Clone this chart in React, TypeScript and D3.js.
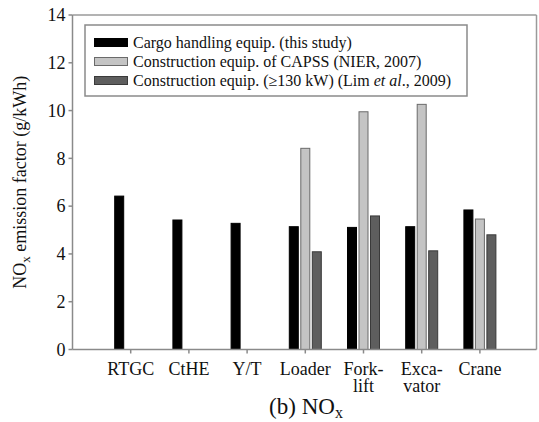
import React from "react";
import * as d3 from "d3";

const categories: string[][] = [["RTGC"], ["CtHE"], ["Y/T"], ["Loader"], ["Fork-", "lift"], ["Exca-", "vator"], ["Crane"]];
const cargo: (number | null)[] = [6.42, 5.42, 5.28, 5.14, 5.11, 5.14, 5.84];
const capss: (number | null)[] = [null, null, null, 8.42, 9.95, 10.26, 5.46];
const lim: (number | null)[] = [null, null, null, 4.09, 5.59, 4.13, 4.8];
const yTicks: number[] = [0, 2, 4, 6, 8, 10, 12, 14];

const seriesList = [
  { values: cargo, fill: "#000000", stroke: "#000000", offset: -1 },
  { values: capss, fill: "#c4c4c4", stroke: "#6a6a6a", offset: 0 },
  { values: lim, fill: "#5e5e5e", stroke: "#3a3a3a", offset: 1 },
];

const FONT = "'Liberation Serif', 'Times New Roman', serif";

export default function App() {
  const W = 539, H = 422;
  const left = 72.5, right = 536.5, top = 15, bottom = 349.5;
  const x = d3.scaleLinear().domain([0, 8]).range([left, left + 8 * 58.2]);
  const y = d3.scaleLinear().domain([0, 14]).range([bottom, top]);
  const barW = 9;
  const step = 11.5;
  const axisColor = "#8a8a8a";

  return (
    <svg width={W} height={H} style={{ position: "absolute", left: 0, top: 0 }} fontFamily={FONT}>
      <rect x={0} y={0} width={W} height={H} fill="#fff" />
      <line x1={left} x2={right} y1={top} y2={top} stroke="#9a9a9a" strokeWidth={1.5} />
      <line x1={right} x2={right} y1={top} y2={bottom} stroke="#9a9a9a" strokeWidth={1.5} />
      {seriesList.map((s, si) =>
        s.values.map((v, i) =>
          v == null ? null : (
            <rect
              key={`${si}-${i}`}
              x={x(i + 1) + s.offset * step - barW / 2}
              y={y(v)}
              width={barW}
              height={y(0) - y(v)}
              fill={s.fill}
              stroke={s.stroke}
              strokeWidth={1}
            />
          )
        )
      )}
      <line x1={left} x2={left} y1={top} y2={bottom} stroke={axisColor} strokeWidth={1.5} />
      <line x1={left} x2={right} y1={bottom} y2={bottom} stroke={axisColor} strokeWidth={1.5} />
      {yTicks.map((t) => (
        <g key={t}>
          <line x1={left - 4} x2={left} y1={y(t)} y2={y(t)} stroke={axisColor} strokeWidth={1.5} />
          <text x={left - 7} y={y(t)} dy="0.35em" textAnchor="end" fontSize={18} fill="#111">
            {t}
          </text>
        </g>
      ))}
      {categories.map((c, i) => (
        <g key={i}>
          <line x1={x(i + 1)} x2={x(i + 1)} y1={bottom} y2={bottom + 4} stroke={axisColor} strokeWidth={1.5} />
          {c.map((line, li) => (
            <text key={li} x={x(i + 1)} y={375 + li * 16.5} textAnchor="middle" fontSize={18} fill="#111">
              {line}
            </text>
          ))}
        </g>
      ))}
      <text transform={`translate(26,${(top + bottom) / 2}) rotate(-90)`} textAnchor="middle" fontSize={18} fill="#111">
        NO<tspan dy={4} fontSize={13}>x</tspan><tspan dy={-4}> emission factor (g/kWh)</tspan>
      </text>
      <text x={306} y={414} textAnchor="middle" fontSize={23} fill="#111">
        (b) NO<tspan dy={4} fontSize={16}>x</tspan>
      </text>
      <rect x={85} y={25} width={382} height={71} fill="#fff" stroke="#8a8a8a" strokeWidth={1.5} />
      {[
        { fill: "#000", stroke: "#000", label: <>Cargo handling equip. (this study)</> },
        { fill: "#c4c4c4", stroke: "#6a6a6a", label: <>Construction equip. of CAPSS (NIER, 2007)</> },
        {
          fill: "#5e5e5e",
          stroke: "#3a3a3a",
          label: (
            <>
              Construction equip. (≥130 kW) (Lim <tspan fontStyle="italic">et al</tspan>., 2009)
            </>
          ),
        },
      ].map((r, i) => (
        <g key={i}>
          <rect x={94.5} y={38.5 + i * 19} width={33} height={8} fill={r.fill} stroke={r.stroke} strokeWidth={1} />
          <text x={133} y={47.5 + i * 19} fontSize={16} fill="#111">
            {r.label}
          </text>
        </g>
      ))}
    </svg>
  );
}
